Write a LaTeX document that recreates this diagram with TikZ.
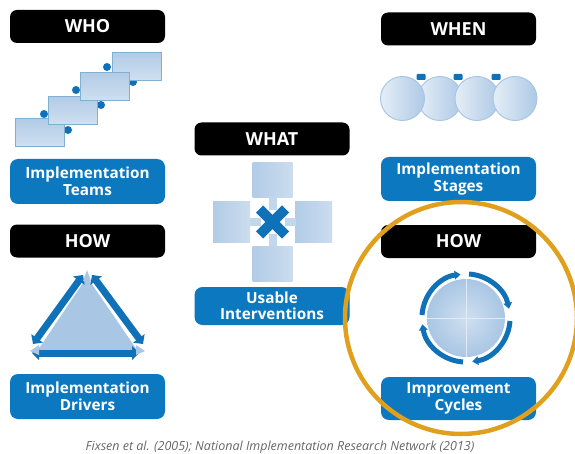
\documentclass[tikz,border=0pt]{standalone}
\usepackage{fontspec}
\setmainfont{Open Sans}
\usetikzlibrary{arrows.meta}
\definecolor{labelblue}{HTML}{0B78BF}
\definecolor{darkblue}{HTML}{0F72B8}
\definecolor{paleblue}{HTML}{A9C6E4}
\definecolor{edgeblue}{HTML}{7FB0D0}
\definecolor{ringgold}{HTML}{E09F1C}
\tikzset{
  headbox/.style={fill=black, rounded corners=7pt, minimum width=155pt, minimum height=33pt,
    text=white, font=\bfseries\fontsize{18}{18}\selectfont, inner sep=0pt},
  labelbox/.style={fill=labelblue, rounded corners=8pt, minimum width=155pt, minimum height=45pt,
    text=white, align=center, font=\bfseries\fontsize{15.3}{16.5}\selectfont, inner sep=0pt},
  sheet/.style={draw=edgeblue, line width=1pt, top color=paleblue!90, bottom color=paleblue!55,
    minimum width=49pt, minimum height=28pt, inner sep=0pt},
  tile/.style={left color=paleblue!90, right color=paleblue!60, inner sep=0pt},
  stage/.style={circle, draw=paleblue, line width=1pt, left color=paleblue!30, right color=paleblue!95,
    minimum size=44pt, inner sep=0pt},
  hook/.style={fill=darkblue, circle, minimum size=8pt, inner sep=0pt},
  tab/.style={fill=darkblue, rounded corners=1pt, minimum width=9pt, minimum height=6pt, inner sep=0pt},
  thickarrow/.style={draw=darkblue, line width=7pt, {Triangle[width=14pt,length=7pt]}-{Triangle[width=14pt,length=7pt]}},
  ringarrow/.style={draw=darkblue, line width=5pt, -{Triangle[width=8.5pt,length=6pt]}}
}
\begin{document}
\begin{tikzpicture}[x=1pt, y=1pt]
  \useasboundingbox (0, 0) rectangle (575, 453);

  % who
  \node [headbox] (who) at (87.5, 426.5) {WHO};
  \foreach \dotx/\doty [count=\i] in {68/323, 101/348, 133/371, 44/339, 76/363, 107/386} {
    \node [hook] (dot\i) at (\dotx, \doty) {};
  }
  \node [sheet] (sheeta) at (40, 320) {};
  \node [sheet] (sheetb) at (72.5, 342.5) {};
  \node [sheet] (sheetd) at (136.5, 386.5) {};
  \node [sheet] (sheetc) at (105, 366) {};
  \node [labelbox] (teams) at (87.5, 271.5) {Implementation\\Teams};

  % how, left
  \node [headbox] (howl) at (87.5, 212) {HOW};
  \fill [paleblue] (87, 176) -- (38, 103) -- (137, 103) -- cycle;
  \coordinate (ltop) at (83, 178);
  \coordinate (lbot) at (33, 109);
  \coordinate (rtop) at (92, 178);
  \coordinate (rbot) at (143, 109);
  \coordinate (bleft) at (32, 100);
  \coordinate (bright) at (139, 100);
  \draw [thickarrow] (ltop) -- (lbot);
  \draw [thickarrow] (rtop) -- (rbot);
  \draw [thickarrow] (bleft) -- (bright);
  \fill [paleblue] (87, 183) -- (83, 172) -- (91, 172) -- cycle;
  \fill [paleblue] (30, 102) -- (39, 108) -- (39, 98) -- cycle;
  \fill [paleblue] (145, 102) -- (136, 108) -- (136, 98) -- cycle;
  \node [labelbox] (drivers) at (87.5, 56.5) {Implementation\\Drivers};

  % what
  \node [headbox] (what) at (272, 314) {WHAT};
  \pgfmathsetmacro{\xc}{272.5};
  \pgfmathsetmacro{\yc}{231};
  \node [tile, minimum width=40pt, minimum height=35pt] (tiletop) at (\xc, \yc+41.5) {};
  \node [tile, minimum width=40pt, minimum height=35pt] (tilebot) at (\xc, \yc-41.5) {};
  \node [tile, minimum width=37pt, minimum height=40pt] (tileleft) at (\xc-41, \yc+0) {};
  \node [tile, minimum width=37pt, minimum height=40pt] (tileright) at (\xc+41, \yc+0) {};
  \fill [paleblue!70] (\xc-4, \yc+24) rectangle (\xc+4, \yc+12);
  \fill [paleblue!70] (\xc-4, \yc-24) rectangle (\xc+4, \yc-12);
  \fill [paleblue!70] (\xc-23, \yc-4) rectangle (\xc-12, \yc+4);
  \fill [paleblue!70] (\xc+23, \yc-4) rectangle (\xc+12, \yc+4);
  \draw [darkblue, line width=10pt] (\xc-13, \yc-13) -- (\xc+13, \yc+13);
  \draw [darkblue, line width=10pt] (\xc-13, \yc+13) -- (\xc+13, \yc-13);
  \node [labelbox, minimum height=38pt] (usable) at (272, 147) {Usable\\Interventions};

  % when
  \node [headbox] (when) at (458.5, 424) {WHEN};
  \foreach \tabx/\taby [count=\i] in {421/376, 458/376, 496/376} {
    \node [tab] (tab\i) at (\tabx, \taby) {};
  }
  \node [stage] (stageb) at (440, 354.5) {};
  \node [stage] (stagea) at (402.5, 354.5) {};
  \node [stage] (stagec) at (477, 354.5) {};
  \node [stage] (staged) at (515, 354.5) {};
  \node [labelbox, minimum height=44pt] (stages) at (458.5, 274) {Implementation\\Stages};

  % how, right
  \node [headbox] (howr) at (458.5, 211.5) {HOW};
  \pgfmathsetmacro{\cx}{466};
  \pgfmathsetmacro{\cy}{135};
  \node [circle, inner color=paleblue!55, outer color=paleblue, minimum size=78pt, inner sep=0pt] (disc) at (\cx, \cy) {};
  \draw [paleblue!35, line width=1pt] (\cx-39, \cy) -- (\cx+39, \cy);
  \draw [paleblue!35, line width=1pt] (\cx, \cy-39) -- (\cx, \cy+39);
  \draw [ringarrow] (\cx-44, \cy+3) arc (176:97:44);
  \draw [ringarrow] (\cx+3, \cy+44) arc (86:12:44);
  \draw [ringarrow] (\cx+44, \cy-3) arc (-4:-82:44);
  \draw [ringarrow] (\cx-3, \cy-44) arc (-94:-172:44);
  \node [labelbox, minimum height=43pt] (cycles) at (458.5, 54.5) {Improvement\\Cycles};

  \draw [ringgold, line width=4.5pt] (461, 135) circle (116);

  \node [text=black!60, font=\itshape\fontsize{12.5}{13}\selectfont, inner sep=0pt] (source) at (280, 6)
    {Fixsen et al. (2005); National Implementation Research Network (2013)};
\end{tikzpicture}
\end{document}
